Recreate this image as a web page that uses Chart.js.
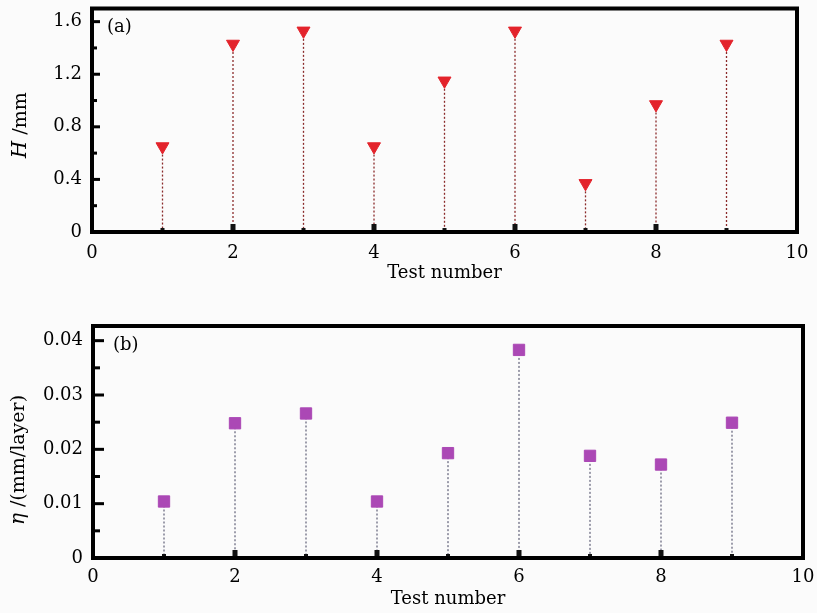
<!DOCTYPE html>
<html>
<head>
<meta charset="utf-8">
<script src="https://cdn.jsdelivr.net/npm/chart.js@4/dist/chart.umd.min.js"></script>
<style>
body{margin:0;background:#fbfbfb;}
#wrap{position:relative;width:817px;height:613px;}
#c1{position:absolute;left:0;top:0;}
#c2{position:absolute;left:0;top:290px;}
</style>
</head>
<body>
<div id="wrap">
<canvas id="c1" width="817" height="290"></canvas>
<canvas id="c2" width="817" height="323"></canvas>
</div>
<script>
/* ================= DATA ================= */
const tests=[1,2,3,4,5,6,7,8,9];
const heightH=[0.65,1.43,1.53,0.65,1.15,1.53,0.37,0.97,1.43];
const etaB=[0.0104,0.0248,0.0266,0.0104,0.0193,0.0383,0.0188,0.0172,0.0249];
const xTicks=[0,2,4,6,8,10];
const baseTall=[false,true,false,true,false,true,false,true,false];

const FONT="'DejaVu Serif', 'Liberation Serif', serif";

/* ================= PLUGIN: frame, stems, inward ticks, titles ================= */
const deco={
id:"deco",
beforeDatasetsDraw(chart,args,o){
const {ctx,scales:{x,y}}=chart;
ctx.save();
// stems
ctx.strokeStyle=o.stemColor;
ctx.lineWidth=1.3;
ctx.setLineDash([2,2]);
o.values.forEach((v,i)=>{
const px=x.getPixelForValue(tests[i]);
ctx.beginPath();
ctx.moveTo(px,y.getPixelForValue(v));
ctx.lineTo(px,y.getPixelForValue(0));
ctx.stroke();
});
ctx.setLineDash([]);
// base marks
ctx.fillStyle="#111";
tests.forEach((t,i)=>{
const px=x.getPixelForValue(t),py=y.getPixelForValue(0);
if(baseTall[i]) ctx.fillRect(px-2.5,py-8,5,8);
else ctx.fillRect(px-2,py-4,4,4);
});
ctx.restore();
},
afterDraw(chart,args,o){
const {ctx,chartArea:a,scales:{y}}=chart;
ctx.save();
// inward y ticks
ctx.fillStyle="#000";
y.ticks.forEach(t=>{
const py=y.getPixelForValue(t.value);
const major=Math.abs(t.value/o.major-Math.round(t.value/o.major))<1e-6;
ctx.fillRect(a.left,py-1.5,major?o.majorLen:o.minorLen,3);
});
// frame
ctx.strokeStyle="#000";
ctx.lineWidth=4;
ctx.strokeRect(a.left,a.top,a.right-a.left,a.bottom-a.top);
// panel label
ctx.fillStyle="#000";
ctx.font="18px "+FONT;
ctx.textBaseline="middle";
ctx.textAlign="left";
ctx.fillText(o.panel,a.left+o.panelDx,a.top+o.panelDy);
// y title with italic symbol
ctx.translate(o.titleX,(a.top+a.bottom)/2+o.titleDy);
ctx.rotate(-Math.PI/2);
ctx.font="italic 20px "+FONT;
const w1=ctx.measureText(o.sym).width;
ctx.font="19px "+FONT;
const w2=ctx.measureText(o.unit).width;
const sx=-(w1+w2)/2;
ctx.font="italic 20px "+FONT;
ctx.fillText(o.sym,sx,0);
ctx.font="19px "+FONT;
ctx.fillText(o.unit,sx+w1,0);
ctx.restore();
}
};

function makeChart(id,opt){
return new Chart(document.getElementById(id),{
type:"scatter",
data:{datasets:[{
data:tests.map((t,i)=>({x:t,y:opt.values[i]})),
pointStyle:opt.pointStyle,
rotation:opt.rotation,
pointRadius:opt.radius,
pointHoverRadius:opt.radius,
backgroundColor:opt.color,
borderColor:opt.color,
borderWidth:1
}]},
options:{
responsive:false,
animation:false,
layout:{padding:opt.padding},
plugins:{legend:{display:false},tooltip:{enabled:false},deco:opt.deco},
scales:{
x:{
type:"linear",min:0,max:10,
afterBuildTicks:s=>{s.ticks=xTicks.map(v=>({value:v}));},
afterFit:s=>{s.height=opt.xHeight;s.paddingLeft=0;s.paddingRight=0;},
grid:{display:false,drawTicks:false},
border:{display:false},
ticks:{color:"#000",font:{family:FONT,size:18},padding:opt.xPad,maxRotation:0},
title:{display:true,text:"Test number",color:"#000",font:{family:FONT,size:18},padding:{top:0,bottom:opt.titlePad}}
},
y:{
min:0,max:opt.ymax,
afterBuildTicks:s=>{
const out=[];
for(let k=0;k*opt.minor<=opt.ymax+1e-9;k++) out.push({value:+(k*opt.minor).toFixed(6)});
s.ticks=out;
},
afterFit:s=>{s.width=opt.yWidth;s.paddingTop=0;s.paddingBottom=0;},
grid:{display:false,drawTicks:false},
border:{display:false},
ticks:{
color:"#000",font:{family:FONT,size:18},padding:10,
callback:v=>{
const r=v/opt.deco.major;
return Math.abs(r-Math.round(r))<1e-6?opt.fmt(v):"";
}
}
}
}
},
plugins:[deco]
});
}

makeChart("c1",{
values:heightH,
pointStyle:"triangle",rotation:180,radius:7.5,color:"#e3232b",
padding:{left:0,right:20,top:8,bottom:0},
xHeight:58,yWidth:92,xPad:11,titlePad:6,
ymax:1.7,minor:0.2,
fmt:v=>v===0?"0":v.toFixed(1),
deco:{values:heightH,stemColor:"#8a2a2a",major:0.4,majorLen:8,minorLen:5,
panel:"(a)",panelDx:15,panelDy:19,titleX:21,titleDy:5,sym:"H",unit:" /mm"}
});

makeChart("c2",{
values:etaB,
pointStyle:"rect",rotation:0,radius:8,color:"#ab48b5",
padding:{left:0,right:14,top:36,bottom:0},
xHeight:55,yWidth:93,xPad:9,titlePad:3,
ymax:0.0427,minor:0.005,
fmt:v=>v===0?"0":v.toFixed(2),
deco:{values:etaB,stemColor:"#6a6a80",major:0.01,majorLen:11,minorLen:7,
panel:"(b)",panelDx:20,panelDy:19,titleX:19,titleDy:18,sym:"η",unit:" /(mm/layer)"}
});
</script>
</body>
</html>
